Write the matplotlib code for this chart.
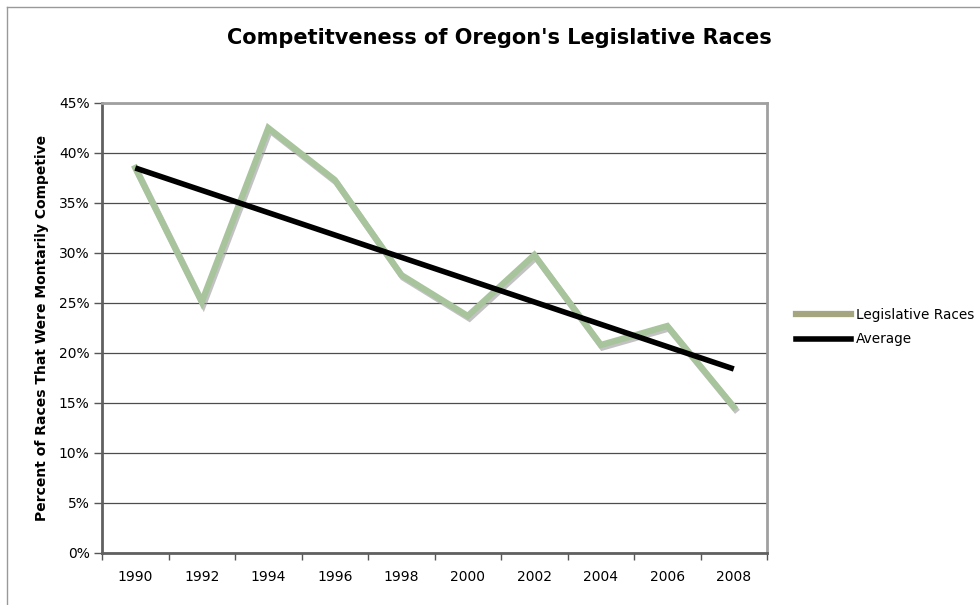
import matplotlib.pyplot as plt
from matplotlib.lines import Line2D
from matplotlib.ticker import FuncFormatter
import matplotlib.patheffects as pe

# | Data |
years = ['1990', '1992', '1994', '1996', '1998', '2000', '2002', '2004', '2006', '2008']
races = [38.5, 25.1, 42.5, 37.3, 27.8, 23.7, 29.8, 20.8, 22.7, 14.6]
avg_years = ['1990', '2008']
avg_values = [38.5, 18.4]
y_ticks = [0, 5, 10, 15, 20, 25, 30, 35, 40, 45]

plt.rcParams['font.family'] = ['DejaVu Sans']

fig = plt.figure(figsize=(9.8, 6.05), dpi=100)
ax = fig.add_axes([0.1041, 0.0860, 0.6786, 0.7438])

x_pos = list(range(len(years)))
avg_pos = [years.index(y) for y in avg_years]

green = '#a8c49c'
ax.plot(x_pos, races, color=green, lw=4.5, solid_joinstyle='miter', zorder=3,
        path_effects=[pe.SimpleLineShadow(offset=(1.2, -1.8), shadow_color='#9a9a9a', alpha=0.6),
                      pe.Normal()])
ax.plot(avg_pos, avg_values, color='black', lw=4, solid_capstyle='butt', zorder=4)

ax.set_xlim(-0.5, len(years) - 0.5)
ax.set_ylim(0, 45)
ax.set_yticks(y_ticks)
ax.yaxis.set_major_formatter(FuncFormatter(lambda v, _: f'{v:.0f}%'))
ax.set_xticks(x_pos)
ax.set_xticklabels(years)
ax.set_xticks([p + 0.5 for p in range(-1, len(years))], minor=True)
ax.tick_params(axis='x', which='major', length=0, pad=12, labelsize=10)
ax.tick_params(axis='x', which='minor', length=5, width=1, color='#555555')
ax.tick_params(axis='y', length=6, width=1, color='#555555', labelsize=10, pad=3)
ax.grid(axis='y', color='#4d4d4d', lw=0.9, zorder=1)
ax.set_axisbelow(True)

for side in ['left', 'bottom']:
    ax.spines[side].set_color('#606060')
    ax.spines[side].set_linewidth(2)
for side in ['top', 'right']:
    ax.spines[side].set_color('#a0a0a0')
    ax.spines[side].set_linewidth(2)

ax.set_ylabel('Percent of Races That Were Montarily Competive', fontsize=10,
              fontweight='bold', labelpad=7)
fig.text(0.51, 0.937, "Competitveness of Oregon's Legislative Races", ha='center',
         va='center', fontsize=15, fontweight='bold')

handles = [Line2D([], [], color='#a5a57f', lw=4.5), Line2D([], [], color='black', lw=4)]
fig.legend(handles, ['Legislative Races', 'Average'], loc='center left',
           bbox_to_anchor=(0.800, 0.459), frameon=False, fontsize=9.8,
           handlelength=4, handletextpad=0.4, labelspacing=0.75)

# thin frame on left and top of the chart area
fig.add_artist(Line2D([0.0075, 0.0075], [0.0, 0.988], color='#999999', lw=1))
fig.add_artist(Line2D([0.0075, 1.0], [0.988, 0.988], color='#999999', lw=1))

fig.savefig('out.png', dpi=100)
